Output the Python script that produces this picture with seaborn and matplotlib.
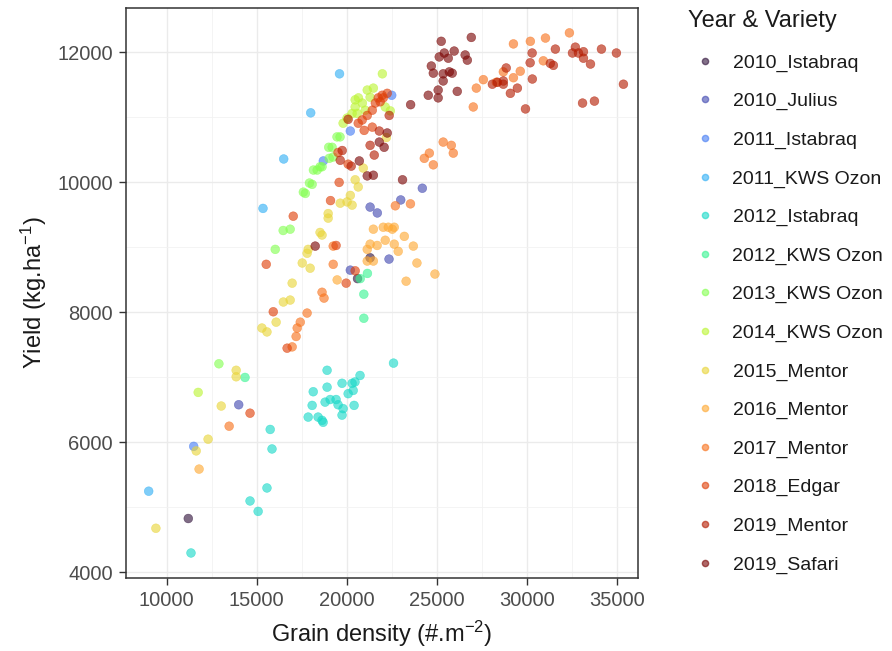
import matplotlib
matplotlib.use("Agg")
import matplotlib.pyplot as plt
from matplotlib.lines import Line2D
from matplotlib.ticker import MultipleLocator
import seaborn as sns
import pandas as pd
import numpy as np

# ------------------------------------------------------------------
# data
# ------------------------------------------------------------------
groups = ["2010_Istabraq", "2010_Julius", "2011_Istabraq", "2011_KWS Ozon",
          "2012_Istabraq", "2012_KWS Ozon", "2013_KWS Ozon", "2014_KWS Ozon",
          "2015_Mentor", "2016_Mentor", "2017_Mentor", "2018_Edgar",
          "2019_Mentor", "2019_Safari"]

x_2010_istabraq = [11200, 20600, 21300]
y_2010_istabraq = [4830, 8520, 8840]

x_2010_julius = [14000, 21300, 21700, 23000, 24200, 22350, 20200]
y_2010_julius = [6580, 9620, 9530, 9730, 9910, 8820, 8650]

x_2011_istabraq = [11500, 20200, 18700, 22500]
y_2011_istabraq = [5940, 10790, 10330, 11340]

x_2011_kws = [9000, 15350, 16500, 18000, 19600]
y_2011_kws = [5250, 9600, 10360, 11070, 11670]

x_2012_istabraq = [11350, 14630, 15080, 15570, 15750, 15850, 22600,
                   18910, 20740, 20460, 20300, 19740, 18910, 18140, 20360, 20080,
                   18800, 19080, 19410, 19520, 19800, 20410,
                   18080, 17860, 18410, 18630, 18690, 19740]
y_2012_istabraq = [4300, 5100, 4940, 5300, 6200, 5900, 7220,
                   7110, 7030, 6930, 6910, 6910, 6850, 6780, 6800, 6750,
                   6620, 6660, 6660, 6580, 6520, 6570,
                   6570, 6390, 6390, 6340, 6310, 6420]

x_2012_kws = [14350, 20750, 21150, 20950, 20950]
y_2012_kws = [7000, 8520, 8600, 8280, 7910]

x_2013_kws = [12900, 16030, 16470, 16860, 17590, 17700, 17930, 18080, 18150,
              18360, 18520, 18630, 19030, 19000, 19190, 19240, 19460, 19630]
y_2013_kws = [7210, 8970, 9260, 9280, 9850, 9830, 9990, 9970, 10190,
              10190, 10240, 10240, 10370, 10540, 10540, 10390, 10700, 10700]

x_2014_kws = [11750, 19800, 20020, 20300, 20470, 20580, 20650, 20870, 21030,
              21140, 21300, 21480, 21980, 22140, 22420, 20470]
y_2014_kws = [6770, 10910, 10990, 11060, 11160, 11060, 11300, 11220, 11110,
              11420, 11310, 11450, 11670, 11160, 11100, 11270]

x_2015_mentor = [9400, 11640, 12300, 13030, 13860, 13860, 15290, 15570, 16080,
                 16480, 16860, 16970, 17530, 17800, 17860, 17970, 18520, 18630,
                 18970, 18970, 19640, 20020, 20200, 20300, 20470, 20640, 20920, 22200]
y_2015_mentor = [4680, 5870, 6050, 6560, 7110, 7010, 7760, 7700, 7850,
                 8160, 8190, 8450, 8760, 8910, 8970, 8680, 9230, 9190,
                 9520, 9450, 9680, 9700, 9800, 9650, 10040, 9930, 10220, 10690]

x_2016_mentor = [11800, 19470, 21140, 21140, 21300, 21480, 21480, 21690, 22030, 22140,
                 22310, 22530, 22640, 22640, 22860, 23200, 23300, 23700, 23900, 24900]
y_2016_mentor = [5590, 8500, 8970, 8790, 9050, 9280, 8790, 9030, 9310, 9110,
                 9310, 9280, 9310, 9050, 8940, 9170, 8480, 9020, 8760, 8590]

x_2017_mentor = [13470, 16970, 17190, 17250, 17420, 17800, 18630, 18740, 19250, 19250,
                 22700, 23540, 24310, 24590, 24810, 25360, 25810, 25920,
                 27030, 27200, 27590, 28310, 28700,
                 29260, 29260, 29640, 30200, 30920, 31040, 32370]
y_2017_mentor = [6250, 7470, 7630, 7760, 7850, 7990, 8310, 8220, 9020, 8740,
                 9640, 9670, 10370, 10450, 10270, 10620, 10570, 10450,
                 11160, 11450, 11580, 11540, 11700,
                 12130, 11610, 11710, 12170, 11870, 12220, 12300]

x_2018_edgar = [14630, 15530, 15920, 16690, 17030, 19100, 19410, 19580, 19970, 20470,
                19520, 20080, 20640, 20860, 21140, 21420, 21590, 21750, 21970, 22250,
                22030, 21860, 20970, 21420]
y_2018_edgar = [6450, 8740, 8010, 7450, 9480, 9720, 9030, 10000, 8450, 8640,
                10460, 10280, 10910, 10960, 11030, 11110, 11220, 11300, 11340, 11370,
                11300, 11240, 10800, 10850]

x_2019_mentor = [20080, 21300, 21530, 21810, 20250, 19640, 19750, 22360,
                 28090, 28370, 28700, 28700, 28860, 29090, 29480, 29930, 30190,
                 30300, 30310, 31310, 31480, 31590, 32540, 32700, 32870, 33100,
                 33150, 33150, 33540, 33760, 34150, 34980, 35370]
y_2019_mentor = [10970, 10570, 10420, 10790, 10250, 10340, 10490, 11030,
                 11510, 11540, 11510, 11560, 11760, 11370, 11450, 11130, 11840,
                 11990, 11590, 11830, 11800, 12050, 11990, 12080, 11990, 11220,
                 12010, 11910, 11820, 11250, 12050, 11990, 11510]

x_2019_safari = [18250, 20700, 21140, 21480, 21810, 22080, 22250, 23100, 23550,
                 24530, 24700, 24810, 25080, 25080, 25140, 25250, 25360, 25360, 25420,
                 25640, 25700, 25860, 25970, 26140, 26580, 26700, 26920]
y_2019_safari = [9020, 10330, 10100, 10110, 10620, 10540, 10760, 10040, 11195,
                 11340, 11790, 11680, 11420, 11300, 11930, 12170, 11670, 11560, 11990,
                 11910, 11700, 11680, 12020, 11400, 11960, 11880, 12230]

x_lists = [x_2010_istabraq, x_2010_julius, x_2011_istabraq, x_2011_kws,
           x_2012_istabraq, x_2012_kws, x_2013_kws, x_2014_kws,
           x_2015_mentor, x_2016_mentor, x_2017_mentor, x_2018_edgar,
           x_2019_mentor, x_2019_safari]
y_lists = [y_2010_istabraq, y_2010_julius, y_2011_istabraq, y_2011_kws,
           y_2012_istabraq, y_2012_kws, y_2013_kws, y_2014_kws,
           y_2015_mentor, y_2016_mentor, y_2017_mentor, y_2018_edgar,
           y_2019_mentor, y_2019_safari]

df = pd.concat(
    [pd.DataFrame({"density": xs, "yield": ys, "group": g})
     for g, xs, ys in zip(groups, x_lists, y_lists)],
    ignore_index=True,
)

# ------------------------------------------------------------------
# style
# ------------------------------------------------------------------
sns.set_style("white")
plt.rcParams["font.family"] = ["Liberation Sans", "DejaVu Sans"]
plt.rcParams["mathtext.fontset"] = "custom"
plt.rcParams["mathtext.rm"] = "Liberation Sans"
plt.rcParams["mathtext.it"] = "Liberation Sans:italic"

# turbo scale incl. both ends (like viridis option = "turbo")
colors = [matplotlib.colormaps["turbo"](v) for v in np.linspace(0, 1, len(groups))]
palette = dict(zip(groups, colors))

fig = plt.figure(figsize=(8.92, 6.51), dpi=100)
ax = fig.add_axes([126 / 892, 1 - 578 / 651, (638 - 126) / 892, (578 - 7.5) / 651])

sns.scatterplot(data=df, x="density", y="yield", hue="group", hue_order=groups,
                palette=palette, s=40, alpha=0.62, linewidth=0.4,
                edgecolor="face", legend=False, ax=ax)

ax.set_xlim(7740, 36180)
ax.set_ylim(3915, 12690)
ax.set_xticks([10000, 15000, 20000, 25000, 30000, 35000])
ax.set_yticks([4000, 6000, 8000, 10000, 12000])
ax.xaxis.set_minor_locator(MultipleLocator(2500))
ax.yaxis.set_minor_locator(MultipleLocator(1000))
ax.grid(which="major", color="#EBEBEB", linewidth=1.0)
ax.grid(which="minor", color="#F2F2F2", linewidth=0.6)
ax.set_axisbelow(True)
ax.tick_params(which="major", length=5, width=1, color="#333333", pad=4.5,
               labelsize=14.5, labelcolor="#4D4D4D", bottom=True, left=True)
ax.tick_params(which="minor", length=0)
for sp in ax.spines.values():
    sp.set_color("#333333")
    sp.set_linewidth(1.1)

ax.set_xlabel(r"Grain density (#.m$^{\mathrm{-2}}$)", fontsize=17, color="#1A1A1A", labelpad=6)
ax.set_ylabel(r"Yield (kg.ha$^{\mathrm{-1}}$)", fontsize=17, color="#1A1A1A", labelpad=6)

handles = [Line2D([0], [0], marker="o", linestyle="", markersize=4.5,
                  markerfacecolor=palette[g], markeredgecolor=palette[g],
                  alpha=0.6) for g in groups]
leg = ax.legend(handles, groups, title="Year & Variety", frameon=False,
                loc="upper left", bbox_to_anchor=(680 / 892, 1 - 2 / 651),
                bbox_transform=fig.transFigure, fontsize=14, title_fontsize=17,
                labelspacing=1.07, handlelength=1.75, handletextpad=0.55,
                borderaxespad=0, alignment="left")
leg._legend_box.sep = 16
for t in leg.get_texts():
    t.set_color("#1A1A1A")
leg.get_title().set_color("#1A1A1A")

fig.savefig("out.png", dpi=100)
